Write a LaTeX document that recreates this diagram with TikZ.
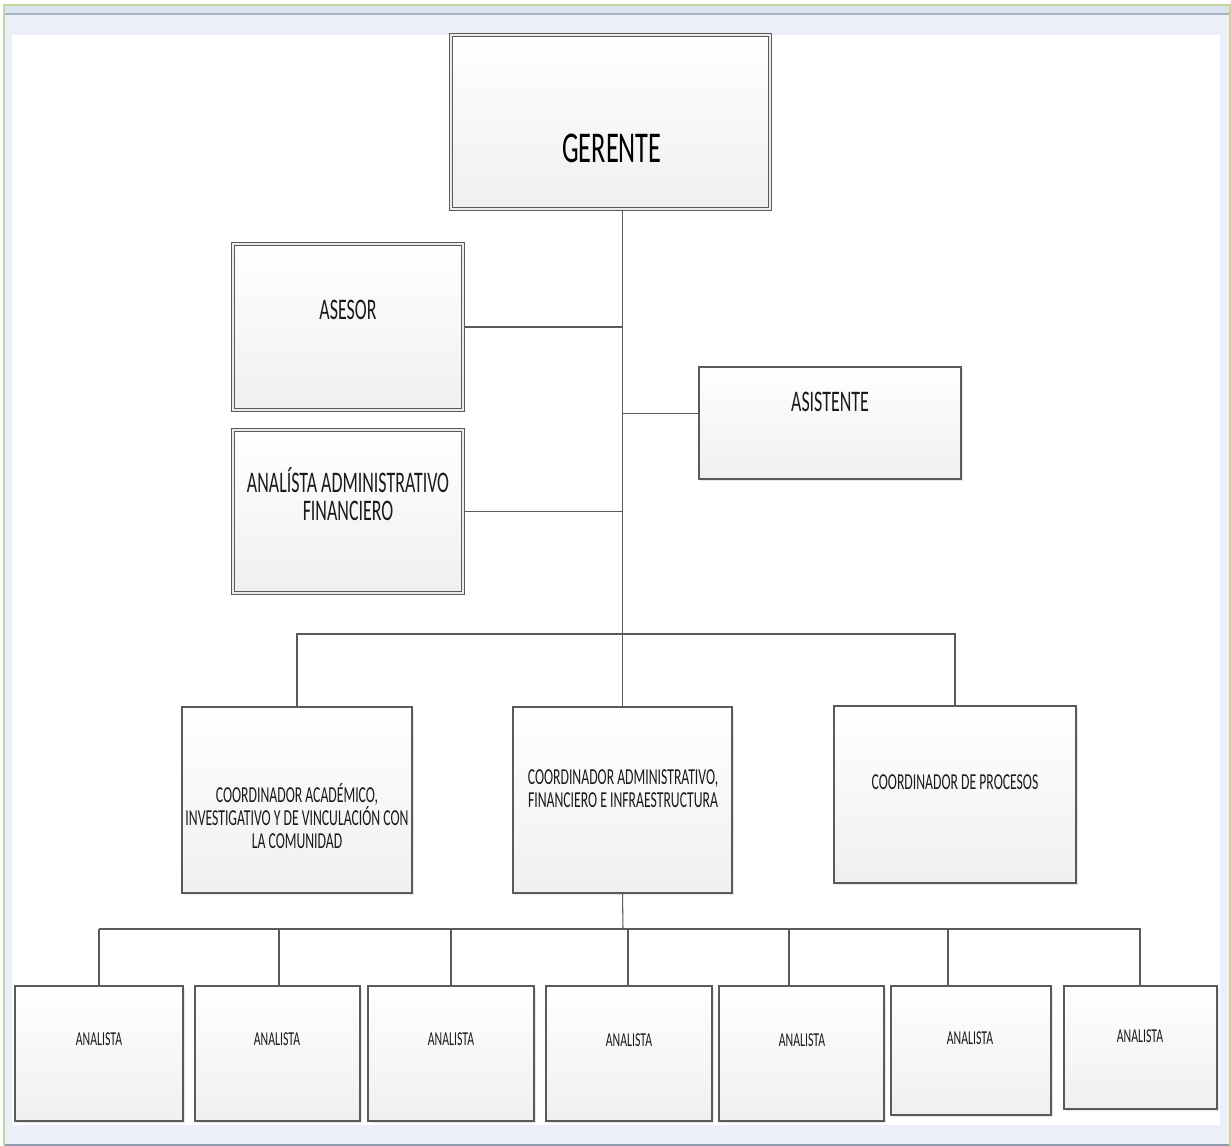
\documentclass[tikz,border=0pt]{standalone}
\usepackage{fontspec}
\setmainfont{Carlito}[FakeStretch=0.6]
\usetikzlibrary{fit,shadows}
\definecolor{framegreen}{HTML}{C4D79B}
\definecolor{paleblue}{HTML}{EBF0F8}
\definecolor{bandblue}{HTML}{DAE3EF}
\definecolor{bandline}{HTML}{A3B3CA}
\definecolor{footline}{HTML}{8E9BB0}
\definecolor{boxline}{HTML}{5A5A5A}
\definecolor{boxtext}{HTML}{1A1A1A}

\begin{document}
\begin{tikzpicture}[x=0.02cm,y=-0.02cm,
		box/.style={draw=boxline,line width=0.8pt,top color=white,bottom color=black!6,inner sep=0pt,
			drop shadow={fill=black!18,shadow xshift=1pt,shadow yshift=-1pt}},
		dbox/.style={box,double=white!92!black,double distance=0.9pt,line width=0.7pt},
		conn/.style={draw=boxline,line width=0.6pt},
		bigtext/.style={font=\fontsize{25}{30}\selectfont,text=black,inner sep=0pt},
		midtext/.style={font=\fontsize{17}{16}\selectfont,text=boxtext,align=center,inner sep=0pt},
		cotext/.style={font=\fontsize{13}{13}\selectfont,text=boxtext,align=center,inner sep=0pt},
		antext/.style={font=\fontsize{11.2}{13}\selectfont,text=boxtext,inner sep=0pt}]
	\useasboundingbox (0,0) rectangle (1231,1146);
	% marco de la ventana
	\fill[paleblue] (4,5) rectangle (1230,1146);
	\fill[bandblue] (4,5) rectangle (1230,14);
	\draw[bandline,line width=0.8pt] (4,14) -- (1230,14);
	\fill[white] (12,35) rectangle (1220,1125);
	\draw[footline,line width=1pt] (4,1145) -- (1230,1145);
	\draw[framegreen,line width=1.1pt] (4,1146) -- (4,5) -- (1230,5) -- (1230,1146);

	% cajas superiores
	\node[dbox,fit={(451,35) (770,209)}] (ger) {};
	\node[bigtext] (gertxt) at (612,148) {GERENTE};
	\node[dbox,fit={(233,244) (463,410)}] (ases) {};
	\node[midtext] (asestxt) at (348,310) {ASESOR};
	\node[box,fit={(699,367) (961,479)}] (asis) {};
	\node[midtext] (asistxt) at (830,402) {ASISTENTE};
	\node[dbox,fit={(233,430) (463,593)}] (anadm) {};
	\node[midtext] (anadmtxt) at (348,494) {ANALÍSTA ADMINISTRATIVO\\FINANCIERO};

	% coordinadores
	\node[box,fit={(182,707) (412,893)}] (coacad) {};
	\node[cotext] (coacadtxt) at (297,816) {COORDINADOR ACADÉMICO,\\INVESTIGATIVO Y DE VINCULACIÓN CON\\LA COMUNIDAD};
	\node[box,fit={(513,707) (732,893)}] (coadm) {};
	\node[cotext] (coadmtxt) at (623,789) {COORDINADOR ADMINISTRATIVO,\\FINANCIERO E INFRAESTRUCTURA};
	\node[box,fit={(834,706) (1076,883)}] (coproc) {};
	\node[cotext] (coproctxt) at (955,782) {COORDINADOR DE PROCESOS};

	% analistas
	\foreach \i/\xa/\xb/\yb/\tx/\ty in {1/15/183/1121/99/1039,2/195/360/1121/277/1039,3/368/534/1121/451/1039,
			4/546/712/1121/629/1040,5/719/884/1121/802/1040,6/891/1051/1115/970/1038,7/1064/1217/1109/1140/1036}{
		\node[box,fit={(\xa,986) (\xb,\yb)}] (an\i) {};
		\node[antext] (an\i txt) at (\tx,\ty) {ANALISTA};
	}

	% lineas
	\coordinate (busone) at (623,634);
	\coordinate (bustwo) at (623,929);
	\draw[conn] (ger.south -| coadm.north) -- (coadm.north);
	\draw[conn] (ases.east) -- (ases.east -| busone);
	\draw[conn] (asis.176) -- (asis.176 -| busone);
	\draw[conn] (anadm.east) -- (anadm.east -| busone);
	\draw[conn] (coacad.north) -- (coacad.north |- busone) -- (coproc.north |- busone) -- (coproc.north);
	\draw[conn] (coadm.south) -- (bustwo);
	\draw[conn] (an1.north |- bustwo) -- (an7.north |- bustwo);
	\foreach \i/\x in {1/99,2/279,3/451,4/628,5/789,6/948,7/1140}
		\draw[conn] (\x,929) -- (an\i.north -| \x,929);
\end{tikzpicture}
\end{document}
